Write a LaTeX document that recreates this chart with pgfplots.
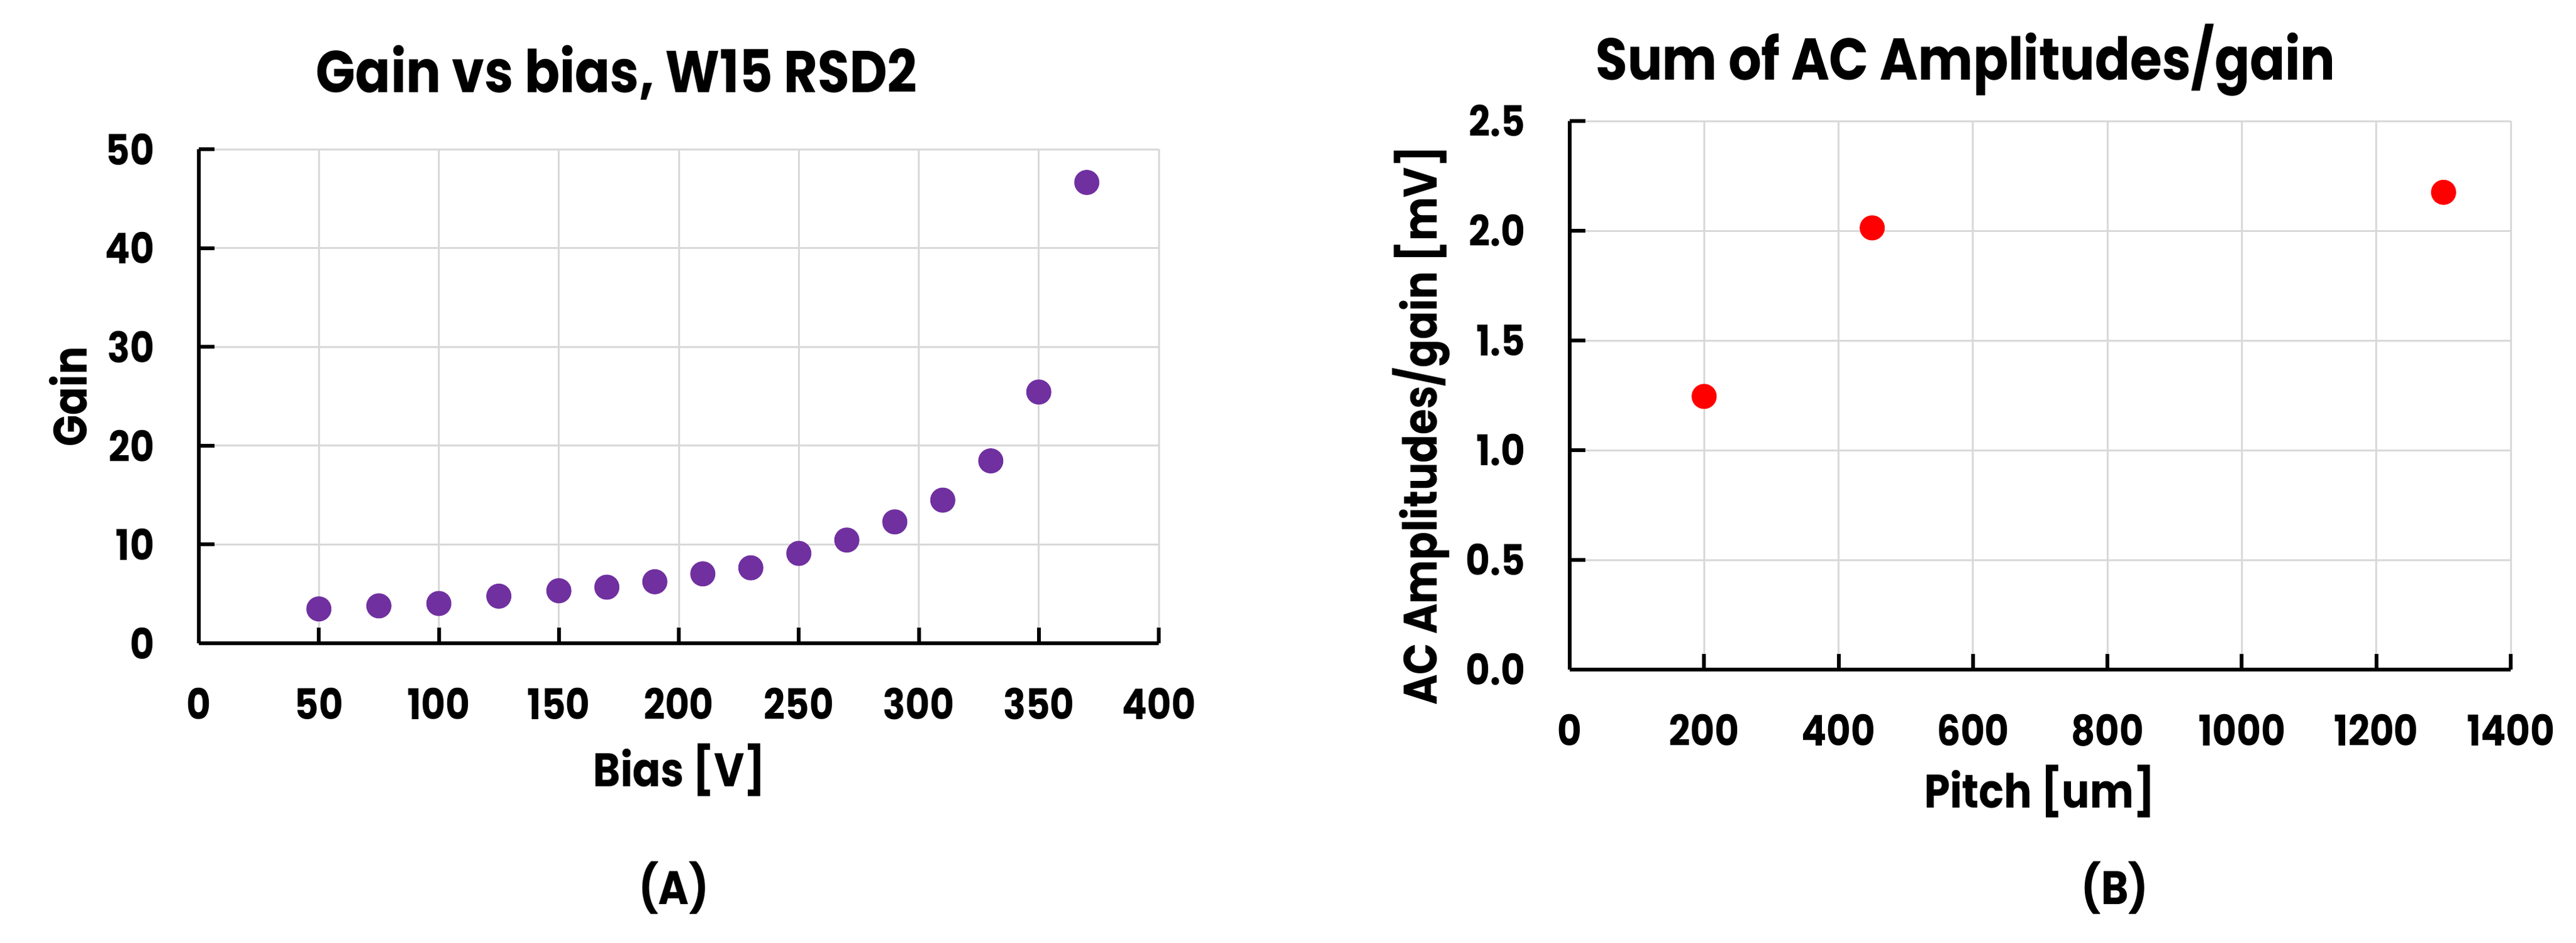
\documentclass[border=0pt]{standalone}
\usepackage{pgfplots}
\pgfplotsset{compat=1.18}
\usepackage{fontspec}
\setmainfont{Poppins}[BoldFont={Poppins Bold}, FakeStretch=0.88]
\definecolor{mypurple}{HTML}{7030A0}
\definecolor{gridgray}{HTML}{D9D9D9}
\pgfplotsset{
  mystyle/.style={
    scale only axis,
    axis lines=left,
    axis line style={-, line width=1.2pt, black},
    tick style={line width=1.2pt, black},
    tick align=inside,
    major tick length=5pt,
    grid=major,
    major grid style={gridgray, line width=0.6pt},
    tick label style={font=\fontsize{13.5}{15}\selectfont\bfseries, inner sep=0pt},
    xticklabel shift=14pt,
    yticklabel shift=14pt,
    /pgf/number format/assume math mode=true,
    /pgf/number format/1000 sep={},
    clip=false,
  }
}
\begin{document}
\begin{tikzpicture}
\path[use as bounding box] (0,0) rectangle (821.2pt,300.6pt);
\begin{axis}[mystyle, at={(63.4pt,95.4pt)}, anchor=south west,
  width=306pt, height=157.6pt,
  xmin=0, xmax=400, ymin=0, ymax=50,
  xtick={0,50,...,400}, ytick={0,10,...,50}]
\addplot[only marks, mark=*, mark size=3.8pt, mypurple, mark options={fill=mypurple, draw=mypurple}] coordinates {
(50,3.48) (75,3.79) (100,4.03) (125,4.77) (150,5.32) (170,5.68) (190,6.23) (210,7.03) (230,7.64) (250,9.10) (270,10.45) (290,12.29) (310,14.49) (330,18.46) (350,25.43) (370,46.64)};
\end{axis}
\begin{axis}[mystyle, at={(500.4pt,87pt)}, anchor=south west,
  width=300pt, height=175pt,
  xmin=0, xmax=1400, ymin=0, ymax=2.5,
  xtick={0,200,...,1400}, ytick={0,0.5,...,2.5},
  yticklabel style={/pgf/number format/.cd, fixed, fixed zerofill, precision=1},
  scaled y ticks=false]
\addplot[only marks, mark=*, mark size=3.8pt, red, mark options={fill=red, draw=red}] coordinates {
(200,1.245) (450,2.013) (1300,2.175)};
\end{axis}
\node[font=\fontsize{18.8}{21}\selectfont\bfseries] at (196.6pt,277.4pt) {Gain vs bias, W15 RSD2};
\node[font=\fontsize{15}{18}\selectfont\bfseries] at (216.6pt,55pt) {Bias [V]};
\node[font=\fontsize{15}{18}\selectfont\bfseries, rotate=90] at (21.8pt,174pt) {Gain};
\node[font=\fontsize{15}{18}\selectfont\bfseries] at (214.8pt,17.4pt) {(A)};
\node[font=\fontsize{18.8}{21}\selectfont\bfseries] at (626.6pt,281.4pt) {Sum of AC Amplitudes/gain};
\node[font=\fontsize{15}{18}\selectfont\bfseries] at (650.2pt,48.2pt) {Pitch [um]};
\node[font=\fontsize{15}{18}\selectfont\bfseries, rotate=90] at (453pt,164.8pt) {AC Amplitudes/gain [mV]};
\node[font=\fontsize{15}{18}\selectfont\bfseries] at (674.2pt,17.4pt) {(B)};
\end{tikzpicture}
\end{document}
